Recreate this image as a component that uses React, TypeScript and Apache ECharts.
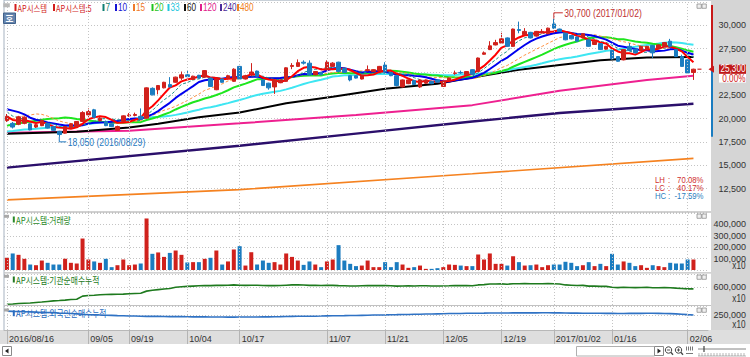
import { useEffect, useRef } from 'react';
import * as echarts from 'echarts';

const dates = [
  '2016/08/16','2016/08/17','2016/08/18','2016/08/19','2016/08/22','2016/08/23','2016/08/24','2016/08/25','2016/08/26','2016/08/29','2016/08/30','2016/08/31',
  '2016/09/01','2016/09/02','2016/09/05','2016/09/06','2016/09/07','2016/09/08','2016/09/09','2016/09/12','2016/09/13','2016/09/19','2016/09/20','2016/09/21','2016/09/22','2016/09/23','2016/09/26','2016/09/27','2016/09/28','2016/09/29','2016/09/30',
  '2016/10/04','2016/10/05','2016/10/06','2016/10/07','2016/10/10','2016/10/11','2016/10/12','2016/10/13','2016/10/14','2016/10/17','2016/10/18','2016/10/19','2016/10/20','2016/10/21','2016/10/24','2016/10/25','2016/10/26','2016/10/27','2016/10/28','2016/10/31',
  '2016/11/01','2016/11/02','2016/11/03','2016/11/04','2016/11/07','2016/11/08','2016/11/09','2016/11/10','2016/11/11','2016/11/14','2016/11/15','2016/11/16','2016/11/17','2016/11/18','2016/11/21','2016/11/22','2016/11/23','2016/11/24','2016/11/25','2016/11/28','2016/11/29','2016/11/30',
  '2016/12/01','2016/12/02','2016/12/05','2016/12/06','2016/12/07','2016/12/08','2016/12/09','2016/12/12','2016/12/13','2016/12/14','2016/12/15','2016/12/16','2016/12/19','2016/12/20','2016/12/21','2016/12/22','2016/12/23','2016/12/26','2016/12/27','2016/12/28','2016/12/29',
  '2017/01/02','2017/01/03','2017/01/04','2017/01/05','2017/01/06','2017/01/09','2017/01/10','2017/01/11','2017/01/12','2017/01/13','2017/01/16','2017/01/17','2017/01/18','2017/01/19','2017/01/20','2017/01/23','2017/01/24','2017/01/25','2017/01/26','2017/01/31',
  '2017/02/01','2017/02/02','2017/02/03','2017/02/06','2017/02/07',
];

const tickDates = ['2016/08/16','2016/09/05','2016/09/19','2016/10/04','2016/10/17','2016/11/07','2016/11/21','2016/12/05','2016/12/19','2017/01/02','2017/01/16','2017/02/06'];
const tickLabels = ['2016/08/16','09/05','09/19','10/04','10/17','11/07','11/21','12/05','12/19','2017/01/02','01/16','02/06'];

// closes before the first visible day (for the moving averages)
const preCloses = [
  17500,17600,17550,17700,17650,17800,17600,17550,17700,17650,17750,17600,17700,
  17600,17500,17450,17550,17400,17500,17600,17550,17650,17600,
  20500,21800,22600,22300,21600,
  21000,20600,19900,19450,
];

// [open, close, low, high]
const ohlc: number[][] = [
  [19800,20250,19650,20500],[19500,19100,18950,19650],[19400,20200,19300,20300],[19500,20150,19400,20250],[19450,18800,18750,19500],
  [19100,19350,19000,19450],[19250,19800,19200,19900],[19500,19000,18950,19550],[19150,18750,18700,19200],[18650,18300,18050,18700],
  [18450,19150,18400,19200],[19000,19450,18950,19500],[19150,19700,19100,19750],[19700,20650,19650,20800],[20400,20750,20150,21100],
  [20950,20150,20100,21050],[19800,20050,19700,20200],[19700,19250,19200,19800],[19450,19150,19100,19500],[18750,19150,18700,19250],
  [19700,20300,19650,20350],[20300,20400,20200,20600],[20350,20450,20250,20650],[20250,19950,19900,21100],[20050,23300,20000,23350],
  [23250,22550,22500,23350],[23100,23550,22600,23600],[23300,23900,23250,23950],[23650,23400,23350,24450],[23900,24450,23850,24500],
  [24350,24700,24150,25050],[24700,24500,24450,25150],[24200,24550,24150,24600],[24650,24350,24300,24700],[24450,25150,24400,25200],
  [24350,23450,23400,24400],[23100,24250,23050,24300],[24250,23900,23850,24300],[24300,24600,24200,24700],[24000,25300,23950,25400],
  [25600,24250,24200,25650],[24250,24600,24200,24700],[24800,25000,24550,25950],[25100,24550,24500,25150],[24150,23550,23500,24200],
  [23800,23300,23100,23850],[23400,24150,22650,24200],[23850,24150,23800,24200],[24000,25450,23950,25500],[25600,25700,25300,25950],
  [25600,26000,25550,26350],[26050,25950,25800,26250],[25950,24700,24600,26250],[24700,25050,24650,25100],[24950,24700,24650,25000],
  [25250,26050,25200,26250],[25600,25950,25550,26050],[26050,25050,25000,26100],[25400,24950,24900,25450],[24600,24150,24000,24650],
  [24600,24350,24300,24650],[24250,24600,24200,24650],[25150,25250,25050,25700],[25050,25250,25000,25300],[25150,25600,25100,25650],
  [25750,25050,25000,26050],[24950,24600,24550,25000],[24600,23550,23450,24650],[23400,24150,23350,24200],[23750,24150,23700,24200],
  [24100,23650,23600,24150],[23400,24150,23300,24200],[23800,24150,23750,24200],[24000,23750,23700,24050],[24150,23900,23850,24200],
  [23450,24000,23400,24050],[24100,24350,24050,24400],[24850,24900,24700,25150],[24950,24900,24800,25150],[24700,25050,24650,25100],
  [25250,24750,24700,25300],[25050,26500,25000,26550],[26900,27050,26850,27200],[27400,27800,27350,28300],[27900,28150,27850,28450],
  [28100,28550,28050,29200],[28650,27750,27700,28700],[27750,29600,27700,29650],[29550,29450,29150,30400],[29000,29350,28950,29700],
  [29250,28650,28600,29300],[28850,29350,28800,29400],[29200,29350,29150,29600],[29100,29700,29050,29750],[30150,29700,29600,30700],
  [29600,29350,29300,29650],[29150,28450,28400,29200],[28900,28550,28500,28950],[28750,28300,28250,28800],[28650,29100,28600,29150],
  [28450,27750,27700,28500],[27950,28300,27900,28350],[28050,27400,27350,28100],[27450,27750,27400,27800],[27300,26400,26350,27350],
  [26650,26150,26100,26700],[26300,27400,26250,27450],[27750,27300,27250,28100],[27450,27050,27000,27500],[27300,27750,27250,27800],
  [27450,27750,27400,27800],[27850,27050,26500,27900],[27550,27900,27500,27950],[27750,28150,27700,28200],[28300,27750,27700,28550],
  [27400,26650,26600,27450],[26650,25600,25550,26850],[26300,24900,24850,26350],[24950,25300,24150,25350],
];

// volume (displayed units, x10)
const volume = [
  107,145,133,98,48,42,83,63,48,48, 98,63,57,276,92,75,63,98,25,42,
  92,42,48,57,452,142,154,115,150,171, 133,66,69,69,98,107,171,48,75,180,
  209,39,156,48,83,63,69,48,145,115, 83,45,75,48,25,75,92,218,83,54,
  34,39,83,25,25,69,25,69,48,19, 25,39,10,10,16,25,48,45,39,34,
  34,136,92,145,54,54,39,121,69,39, 42,48,25,42,48,48,72,63,34,42,
  69,34,54,34,142,48,75,63,34,42, 19,42,34,25,63,57,57,92,92,
].map((v) => v * 1000);

// institutional net buying, cumulative (x10)
const institution = [
  25,35,50,60,70,85,100,120,140,150, 165,185,195,300,320,330,345,355,360,365,
  370,380,390,400,470,500,520,540,560,600, 620,630,640,650,660,655,665,665,670,680,
  670,665,670,670,660,655,655,660,670,680, 680,675,665,665,660,665,665,655,650,645,
  645,650,655,655,660,655,650,640,645,650, 645,650,650,645,645,645,650,660,655,660,
  650,680,690,710,710,715,705,720,720,725, 720,720,720,725,720,710,680,670,660,665,
  640,640,630,630,600,590,600,595,590,595, 600,585,585,590,585,570,560,545,545,
].map((v) => v * 1000);

// foreign net buying, cumulative (x10)
const foreign = [
  322,318,316,313,310,306,300,298,296,290, 286,282,276,268,263,259,256,251,249,246,
  244,240,239,236,233,232,233,230,229,228, 228,226,225,224,225,222,222,221,220,220,
  221,222,222,223,225,225,226,228,231,233, 234,235,236,236,238,241,243,244,245,247,
  248,250,252,255,256,258,261,262,264,266, 268,270,273,274,276,278,281,282,283,285,
  286,287,288,290,290,291,291,292,292,293, 294,293,294,294,293,292,290,289,288,287,
  286,285,285,284,284,283,283,284,284,284, 285,285,284,283,280,276,270,262,255,
].map((v) => v * 1000);

// long moving averages read at a few days: [dayIndex, value]
const ma60Pts = [[0,18380],[12,18600],[21,19050],[26,19450],[33,20150],[40,20650],[48,21650],[56,22350],[65,23200],[74,23750],[80,24400],[88,25250],[95,25750],[102,26250],[110,26550],[118,26600]];
const ma120Pts = [[0,18500],[21,18700],[40,19500],[60,20400],[80,21450],[95,23000],[110,24150],[118,24600]];
const ma240Pts = [[0,14750],[40,17100],[60,18400],[80,19700],[95,20600],[118,21600]];
const ma480Pts = [[0,11300],[40,12400],[80,14100],[118,15750]];

const legendItems = [
  { label: 'AP시스템', color: '#d21c1c', kr: true },
  { label: 'AP시스템:5', color: '#d21c1c', kr: true },
  { label: '7', color: '#0f7f72' },
  { label: '10', color: '#1414d4' },
  { label: '15', color: '#f07a2a' },
  { label: '20', color: '#1ec41e' },
  { label: '33', color: '#1fc6de' },
  { label: '60', color: '#111111' },
  { label: '120', color: '#e0208c' },
  { label: '240', color: '#4a2a9a' },
  { label: '480', color: '#f08020' },
];
const legendX = [14.5, 53, 102.5, 115, 133, 151.5, 167.5, 184, 200, 220, 237];

const dayChange = 0.0;

const FN = '"Liberation Sans", Arial, sans-serif';
const FK = '"Noto Sans CJK KR", "Noto Sans", sans-serif';
const NARROW = 0.82;
const C_UP = '#d0211c';
const C_DN = '#1b7cc0';
const DOT = { color: '#c4c4c4', type: [1, 2], width: 1 };

const fmt = (v: number) => v.toLocaleString('en-US');
const closes = ohlc.map((d) => d[1]);
const allCloses = [...preCloses, ...closes];
function sma(n: number) {
  return ohlc.map((_, i) => {
    const end = preCloses.length + i;
    let s = 0;
    for (let k = end - n + 1; k <= end; k++) s += allCloses[k];
    return Math.round(s / n);
  });
}

const xCats = [...dates, ' ', '  '];
const tickIdx = tickDates.map((d) => dates.indexOf(d));
const lastClose = closes[closes.length - 1];

function buildOption() {
  const grids = [
    { left: 4, top: 2, width: 704, height: 210 },
    { left: 4, top: 213, width: 704, height: 57 },
    { left: 4, top: 274, width: 704, height: 31 },
    { left: 4, top: 306, width: 704, height: 24 },
  ];
  const xAxis = grids.map((_, k) => ({
    type: 'category',
    gridIndex: k,
    data: xCats,
    boundaryGap: true,
    axisLine: { show: k === 3, lineStyle: { color: '#b8b8b8' } },
    axisTick: k === 3
      ? { show: true, alignWithLabel: true, length: 14, interval: (i: number) => tickIdx.includes(i), lineStyle: { color: '#b4b4b4' } }
      : { show: false },
    axisLabel: k === 3
      ? {
          show: true,
          interval: (i: number) => tickIdx.includes(i),
          formatter: (_v: string, i: number) => tickLabels[tickIdx.indexOf(i)] ?? '',
          align: 'left',
          padding: [0, 0, 0, 2],
          margin: 4,
          fontSize: 9,
          fontFamily: FN,
          color: '#333',
        }
      : { show: false },
    splitLine: { show: false },
  }));
  const yLabel = (formatter: (v: number) => string) => ({
    show: true, formatter, align: 'right', margin: 38, fontSize: 9, fontFamily: FN, color: '#333',
  });
  const yAxis = [
    { type: 'value', gridIndex: 0, position: 'right', min: 10000, max: 32500, interval: 2500,
      axisLabel: yLabel((v) => (v <= 10000 || v >= 32500 || Math.abs(v - lastClose) < 1200 ? '' : fmt(v))) },
    { type: 'value', gridIndex: 1, position: 'right', min: 0, max: 500000, interval: 100000,
      axisLabel: yLabel((v) => (v <= 0 || v >= 500000 ? '' : fmt(v))) },
    { type: 'value', gridIndex: 2, position: 'right', min: 0, max: 1050000, interval: 600000,
      axisLabel: yLabel((v) => (v === 600000 ? fmt(v) : '')) },
    { type: 'value', gridIndex: 3, position: 'right', min: 0, max: 410000, interval: 250000,
      axisLabel: yLabel((v) => (v === 250000 ? fmt(v) : '')) },
  ].map((a) => ({ ...a, scale: false, axisLine: { show: false }, axisTick: { show: false }, splitLine: { show: true, lineStyle: DOT } }));

  const vLines = (k: number) => ({
    type: 'line', xAxisIndex: k, yAxisIndex: k, data: [], silent: true, z: 1, symbol: 'none',
    markLine: {
      silent: true, symbol: ['none', 'none'], label: { show: false }, lineStyle: DOT,
      data: tickDates.map((d) => ({ xAxis: d })),
    },
  });
  const maLine = (data: any[], color: string, width: number, dashed = false) => ({
    type: 'line', xAxisIndex: 0, yAxisIndex: 0, data, showSymbol: false, symbol: 'none', silent: true, z: 2,
    lineStyle: { color, width, type: dashed ? [3, 2] : 'solid' },
  });

  return {
    animation: false,
    backgroundColor: '#ffffff',
    textStyle: { fontFamily: FN },
    grid: grids,
    xAxis,
    yAxis,
    series: [
      vLines(0), vLines(1), vLines(2), vLines(3),
      maLine(ma480Pts, '#f58220', 1.6),
      maLine(ma240Pts, '#2b0f6b', 2.4),
      maLine(ma120Pts, '#ee2090', 2),
      maLine(ma60Pts, '#000000', 2),
      maLine(sma(33), '#3ee6f2', 2),
      maLine(sma(20), '#1ee61e', 2),
      maLine(sma(15), '#ff9040', 1, true),
      maLine(sma(10), '#0000ee', 2),
      maLine(sma(7), '#1a8f86', 1, true),
      maLine(sma(5), '#ff0000', 2),
      {
        type: 'candlestick', xAxisIndex: 0, yAxisIndex: 0, data: ohlc, barWidth: 4, z: 3, silent: true,
        itemStyle: { color: C_UP, color0: C_DN, borderColor: C_UP, borderColor0: C_DN, borderWidth: 1 },
      },
      {
        type: 'bar', xAxisIndex: 1, yAxisIndex: 1, barWidth: 4, silent: true, z: 3,
        data: volume.map((v, i) => ({ value: v, itemStyle: { color: ohlc[i][1] >= ohlc[i][0] ? C_UP : C_DN } })),
      },
      {
        type: 'line', xAxisIndex: 2, yAxisIndex: 2, data: institution, showSymbol: false, symbol: 'none', silent: true, z: 3,
        lineStyle: { color: '#1e7a1e', width: 1.6 },
      },
      {
        type: 'line', xAxisIndex: 3, yAxisIndex: 3, data: foreign, showSymbol: false, symbol: 'none', silent: true, z: 3,
        lineStyle: { color: '#2f72c4', width: 1.6 },
      },
    ],
  };
}

const rect = (x: number, y: number, w: number, h: number, fill: string, extra: any = {}) => ({
  type: 'rect', shape: { x, y, width: w, height: h }, style: { fill }, silent: true, z: extra.z ?? 5,
});
const txt = (x: number, y: number, t: string, fill: string, size: number, font: string, align = 'left', extra: any = {}) => ({
  type: 'text', x, y, silent: true, z: extra.z ?? 6, scaleX: extra.scaleX ?? NARROW,
  style: { text: t, fill, fontSize: size, fontFamily: font, align, verticalAlign: 'middle', fontWeight: extra.bold ? 'bold' : 'normal' },
});
const ln = (x1: number, y1: number, x2: number, y2: number, stroke: string, w = 1, z = 6) => ({
  type: 'line', shape: { x1, y1, x2, y2 }, style: { stroke, lineWidth: w }, silent: true, z,
});

function buildGraphics(chart: any) {
  let hiIdx = 0, loIdx = 0;
  ohlc.forEach((d, i) => {
    if (d[3] > ohlc[hiIdx][3]) hiIdx = i;
    if (d[2] < ohlc[loIdx][2]) loIdx = i;
  });
  const hi = ohlc[hiIdx][3];
  const lo = ohlc[loIdx][2];
  const last = ohlc.length - 1;
  const cur = ohlc[last][1];
  const P = (i: number, v: number) => chart.convertToPixel({ xAxisIndex: 0, yAxisIndex: 0 }, [i, v]);
  const [hx, hy] = P(hiIdx, hi);
  const [lx, ly] = P(loIdx, lo);
  const [cx, cy] = P(last, cur);
  const pct = (a: number, b: number) => `${(((a - b) / b) * 100).toFixed(2)}%`;
  const stats = [
    { k: 'LH', v: pct(hi, lo), c: '#d03030' },
    { k: 'LC', v: pct(cur, lo), c: '#d03030' },
    { k: 'HC', v: pct(cur, hi), c: '#2a80c0' },
  ];

  const g: any[] = [];
  // backgrounds and frames
  g.push(rect(711, 0, 39, 330, '#d5d5d5', { z: -5 }));
  g.push(rect(0, 330, 750, 14, '#dedede', { z: -5 }));
  g.push(rect(4, 0, 707, 1, '#c8d0d8', { z: 4 }));
  g.push(rect(3.5, 0, 1, 330, '#a7b4c2', { z: 4 }));
  g.push(rect(4, 211.2, 707, 1.6, '#c2c2c2', { z: 4 }));
  g.push(rect(4, 272.2, 707, 1.4, '#c2c2c2', { z: 4 }));
  g.push(rect(4, 304.9, 707, 1.2, '#c2c2c2', { z: 4 }));

  // legend
  g.push(rect(3.3, 3.3, 6.5, 4, '#b8b8b8'));
  legendItems.forEach((it, i) => {
    const x = legendX[i];
    g.push(rect(x, 4, 2, 7, it.color));
    if (it.kr) g.push(txt(x + 3, 7.8, it.label, it.color, 9, FK));
    else g.push(txt(x + 3, 7.8, it.label, it.color, 10, FN));
  });
  // "호" button
  g.push({ type: 'rect', shape: { x: 3.5, y: 13, width: 12, height: 10.5 }, style: { fill: '#6584ad', stroke: '#41628c', lineWidth: 1 }, silent: true, z: 5 });
  g.push(txt(9.5, 18.4, '호', '#ffffff', 8.5, FK, 'center', { bold: true, scaleX: 1 }));

  // panel labels
  const panels = [
    { y: 219.3, t: 'AP시스템:거래량', c: '#2a8a2a' },
    { y: 279.3, t: 'AP시스템:기관순매수누적', c: '#237a23' },
    { y: 313, t: 'AP시스템:외국인순매수누적', c: '#2a6cc0' },
  ];
  panels.forEach((p) => {
    g.push(rect(4, p.y - 4.5, 5, 3, '#a8a8a8'));
    g.push(rect(12.8, p.y - 2.8, 2, 6, p.c));
    g.push(txt(16, p.y, p.t, p.c, 9.5, FK));
  });

  // tiny panel icons
  [4, 214, 275, 308].forEach((y) => {
    [697, 702].forEach((x) => {
      g.push({ type: 'rect', shape: { x, y, width: 4.3, height: 4.3 }, style: { fill: '#f0f0f0', stroke: '#909090', lineWidth: 0.8 }, silent: true, z: 6 });
    });
  });

  // x10 unit labels
  [265.5, 299, 324.5].forEach((y) => g.push(txt(745.5, y, 'x10', '#333', 10, FN, 'right')));

  // price range indicator
  g.push(ln(712, 5, 712, cy - 1, '#c81818', 2, 7));
  g.push(ln(712, cy + 1, 712, ly, '#1a7cc0', 2, 7));
  g.push({ type: 'polygon', shape: { points: [[708.5, cy], [714, cy - 3.5], [714, cy + 3.5]] }, style: { fill: '#c81818' }, silent: true, z: 8 });
  g.push(rect(719, cy - 4.6, 27, 9.2, '#c01818', { z: 9 }));
  g.push(txt(745.5, cy, fmt(cur), '#ffffff', 10, FN, 'right', { z: 10 }));
  g.push(rect(719, cy + 4.8, 27, 8.6, '#ffffff', { z: 9 }));
  g.push(txt(745.5, cy + 9.2, `${dayChange.toFixed(2)}%`, '#d02020', 10, FN, 'right', { z: 10 }));
  g.push(ln(cx + 4, cy, cx + 8, cy, '#d02020', 1.2, 7));

  // LH / LC / HC
  stats.forEach((s, i) => {
    const y = 180 + i * 7.8;
    g.push(txt(655, y, s.k, s.c, 9.5, FN));
    g.push(txt(668, y, ':', s.c, 9.5, FN));
    g.push(txt(703.5, y, s.v, s.c, 9.5, FN, 'right'));
  });

  // high / low annotations
  g.push(ln(hx, hy, hx, hy - 6, '#c83030', 1, 7));
  g.push(ln(hx, hy - 6, hx + 9, hy - 6, '#c83030', 1, 7));
  g.push(txt(hx + 10.5, hy - 6, `${fmt(hi)} (${dates[hiIdx]})`, '#c03030', 10.5, FN));
  g.push(ln(lx, ly, lx, ly + 5, '#1f78c0', 1, 7));
  g.push(ln(lx, ly + 5, lx + 7, ly + 5, '#1f78c0', 1, 7));
  g.push(txt(lx + 8.5, ly + 5, `${fmt(lo)} (${dates[loIdx]})`, '#1f78c0', 10.5, FN));

  // bottom scroll strip
  const box = (x: number, y: number, w: number, h: number, stroke = '#8a8a8a') => ({
    type: 'rect', shape: { x, y, width: w, height: h }, style: { fill: '#ffffff', stroke, lineWidth: 1 }, silent: true, z: 6,
  });
  g.push(box(2.5, 346.5, 9, 9));
  g.push({ type: 'polygon', shape: { points: [[5, 351], [8.5, 348.5], [8.5, 353.5]] }, style: { fill: '#222' }, silent: true, z: 7 });
  g.push(box(576.5, 346.5, 78, 9.5, '#b0b0b0'));
  g.push(box(654.5, 346.5, 9, 9));
  g.push({ type: 'polygon', shape: { points: [[661, 351], [657.5, 348.5], [657.5, 353.5]] }, style: { fill: '#222' }, silent: true, z: 7 });
  [668.5, 678.5].forEach((x, k) => {
    g.push({ type: 'circle', shape: { cx: x, cy: 350, r: 3.2 }, style: { fill: 'none', stroke: '#444', lineWidth: 1 }, silent: true, z: 7 });
    g.push(ln(x + 2.3, 352.3, x + 4.5, 354.8, '#444', 1.3));
    g.push(ln(x - 1.6, 350, x + 1.6, 350, '#444', 0.9));
    if (k === 1) g.push(ln(x, 348.4, x, 351.6, '#444', 0.9));
  });
  [686.5, 688.5, 690.5, 692.5].forEach((x) => g.push(ln(x, 346.5, x, 350.5, '#555', 0.8)));
  g.push(ln(686, 353.5, 693, 353.5, '#555', 0.8));
  g.push(ln(698, 349, 746, 349, '#666', 0.8));
  g.push(ln(704, 346, 704, 352, '#444', 1.2));
  for (let x = 699; x <= 745; x += 3) g.push(ln(x, 353, x, 356, '#888', 0.6));
  g.push(ln(698, 356, 746, 356, '#888', 0.6));

  return g;
}

export default function App() {
  const ref = useRef<HTMLDivElement>(null);
  useEffect(() => {
    document.body.style.margin = '0';
    const el = ref.current as HTMLDivElement;
    const chart = echarts.init(el, undefined, { renderer: 'svg' });
    chart.setOption(buildOption() as any);
    chart.setOption({ graphic: { elements: buildGraphics(chart) } } as any);
    return () => chart.dispose();
  }, []);
  return <div ref={ref} style={{ position: 'absolute', left: 0, top: 0, width: 750, height: 357 }} />;
}
